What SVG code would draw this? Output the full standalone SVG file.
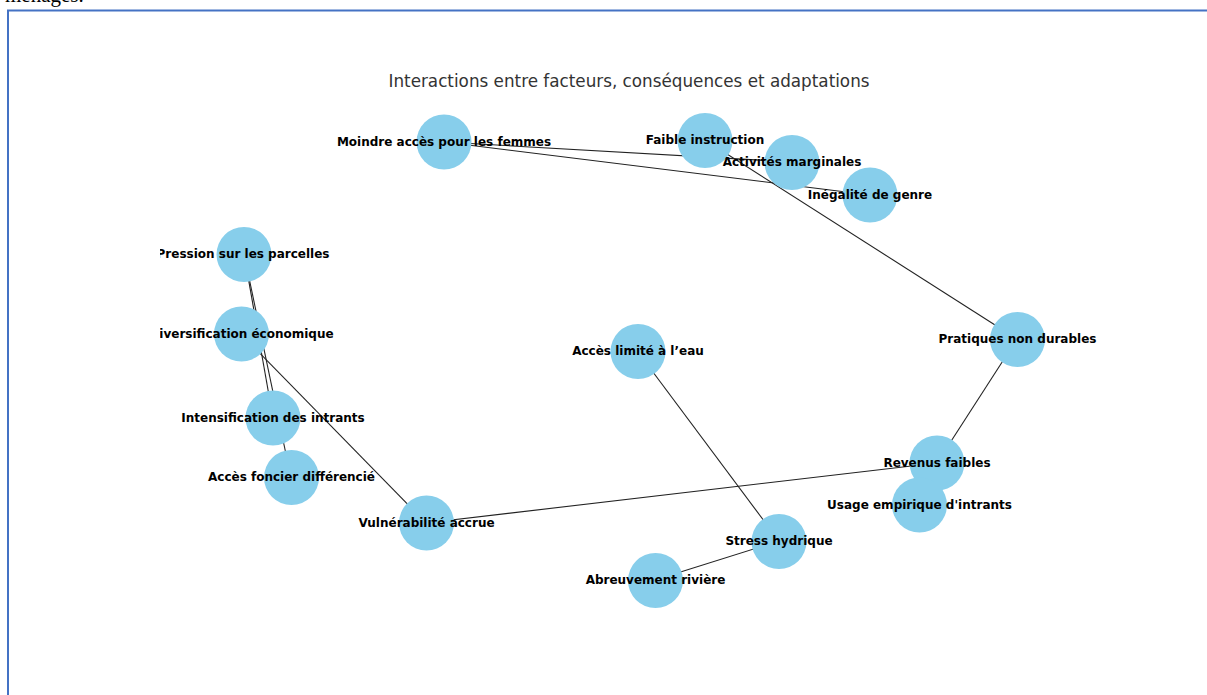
<svg xmlns="http://www.w3.org/2000/svg" width="1207" height="695" viewBox="0 0 1207 695">
<style>
.frame{fill:none;stroke:#4472C4;stroke-width:2}
.edge{stroke:#222;stroke-width:1.1;fill:none}
.node circle{fill:#87CEEB}
.node text{font-family:"DejaVu Sans",sans-serif;font-weight:bold;font-size:12px;fill:#000;text-anchor:middle;dominant-baseline:central}
.title{font-family:"DejaVu Sans",sans-serif;font-size:16.8px;fill:#333;text-anchor:middle}
.doc{font-family:"Liberation Serif",serif;font-size:21px;fill:#000}
</style>
<defs>
<clipPath id="fig"><rect x="160" y="11" width="940" height="684"/></clipPath>
</defs>
<rect x="0" y="0" width="1207" height="695" fill="#fff"/>
<text class="doc" x="5" y="2">ménages.</text>
<rect class="frame" x="8" y="10.5" width="1220" height="700"/>
<text class="title" x="629" y="87">Interactions entre facteurs, conséquences et adaptations</text>
<g clip-path="url(#fig)">
<g id="connectors">
<line class="edge" x1="444" y1="142" x2="792" y2="162"/>
<line class="edge" x1="444" y1="142" x2="870" y2="195"/>
<line class="edge" x1="705" y1="140" x2="1017" y2="339"/>
<line class="edge" x1="1017" y1="339" x2="937" y2="463"/>
<line class="edge" x1="937" y1="463" x2="426" y2="523"/>
<line class="edge" x1="241" y1="334" x2="426" y2="523"/>
<line class="edge" x1="244" y1="254" x2="273" y2="418"/>
<line class="edge" x1="244" y1="254" x2="291" y2="478"/>
<line class="edge" x1="638" y1="352" x2="779" y2="541"/>
<line class="edge" x1="779" y1="541" x2="655" y2="580"/>
</g>
<g id="n-moindre" class="node"><circle cx="444" cy="142" r="27.5"/><text x="444" y="141.5">Moindre accès pour les femmes</text></g>
<g id="n-faible" class="node"><circle cx="705" cy="140.5" r="27.5"/><text x="705" y="140">Faible instruction</text></g>
<g id="n-activites" class="node"><circle cx="792" cy="162.5" r="27.5"/><text x="792" y="162">Activités marginales</text></g>
<g id="n-inegalite" class="node"><circle cx="870" cy="195" r="27.5"/><text x="870" y="194.5">Inégalité de genre</text></g>
<g id="n-pression" class="node"><circle cx="244" cy="254.5" r="27.5"/><text x="243" y="254">Pression sur les parcelles</text></g>
<g id="n-diversification" class="node"><circle cx="241.5" cy="334" r="27.5"/><text x="241.5" y="333.5">Diversification économique</text></g>
<g id="n-intensification" class="node"><circle cx="273" cy="418" r="27.5"/><text x="273" y="417.5">Intensification des intrants</text></g>
<g id="n-foncier" class="node"><circle cx="291.5" cy="477.5" r="27.5"/><text x="291.5" y="477">Accès foncier différencié</text></g>
<g id="n-vulnerabilite" class="node"><circle cx="426.5" cy="523" r="27.5"/><text x="426.5" y="522.5">Vulnérabilité accrue</text></g>
<g id="n-eau" class="node"><circle cx="638" cy="351.5" r="27.5"/><text x="638" y="351">Accès limité à l’eau</text></g>
<g id="n-stress" class="node"><circle cx="779" cy="541.5" r="27.5"/><text x="779" y="541">Stress hydrique</text></g>
<g id="n-abreuvement" class="node"><circle cx="655.5" cy="580.5" r="27.5"/><text x="655.5" y="580">Abreuvement rivière</text></g>
<g id="n-pratiques" class="node"><circle cx="1017.5" cy="339.5" r="27.5"/><text x="1017.5" y="339">Pratiques non durables</text></g>
<g id="n-revenus" class="node"><circle cx="937" cy="463" r="27.5"/><text x="937" y="462.5">Revenus faibles</text></g>
<g id="n-usage" class="node"><circle cx="919.5" cy="505" r="27.5"/><text x="919.5" y="504.5">Usage empirique d'intrants</text></g>
</g>
</svg>
